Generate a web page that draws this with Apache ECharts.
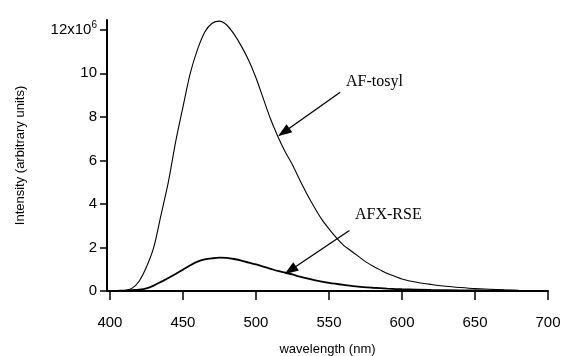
<!DOCTYPE html>
<html>
<head>
<meta charset="utf-8">
<script src="https://cdn.jsdelivr.net/npm/echarts@6/dist/echarts.min.js"></script>
<style>
  html, body { margin: 0; padding: 0; background: #fff; }
  #chart { width: 561px; height: 356px; }
</style>
</head>
<body>
<div id="chart"></div>
<script>
// emission spectra (intensity in 10^6 units)
const tosylWavelengths = [400, 405, 410, 415, 420, 425, 430, 435, 440, 445, 450, 455, 460, 465, 470, 475, 480, 485, 490, 495, 500, 505, 510, 515, 520, 525, 530, 535, 540, 545, 550, 555, 560, 565, 570, 575, 580, 585, 590, 595, 600, 610, 620, 630, 640, 650, 660, 670, 680];
const tosylValues = [0, 0.01, 0.02, 0.12, 0.45, 1.1, 2.0, 3.5, 5.0, 6.85, 8.45, 10.0, 11.1, 11.9, 12.3, 12.4, 12.22, 11.8, 11.25, 10.6, 9.8, 8.85, 7.9, 7.1, 6.4, 5.8, 5.1, 4.45, 3.85, 3.3, 2.85, 2.45, 2.1, 1.85, 1.6, 1.35, 1.15, 0.97, 0.8, 0.68, 0.55, 0.4, 0.3, 0.22, 0.16, 0.11, 0.08, 0.05, 0.03];

const rseWavelengths = [400, 405, 410, 415, 420, 425, 430, 435, 440, 445, 450, 455, 460, 465, 470, 475, 480, 485, 490, 495, 500, 505, 510, 515, 520, 525, 530, 535, 540, 545, 550, 560, 570, 580, 590, 600, 620, 640, 660, 680, 700];
const rseValues = [0, 0.01, 0.02, 0.04, 0.06, 0.12, 0.25, 0.42, 0.6, 0.78, 0.98, 1.18, 1.35, 1.45, 1.5, 1.53, 1.52, 1.47, 1.4, 1.3, 1.22, 1.12, 1.02, 0.92, 0.84, 0.76, 0.66, 0.58, 0.5, 0.43, 0.37, 0.28, 0.2, 0.15, 0.11, 0.08, 0.05, 0.03, 0.02, 0.01, 0.01];

const xTicks = [400, 450, 500, 550, 600, 650, 700];
const yTicks = [0, 2, 4, 6, 8, 10, 12];

// arrows: [start, end] in data coordinates
const tosylArrow = [[557.7, 9.13], [519, 7.29]];
const rseArrow = [[564, 2.78], [523.5, 0.95]];

const chart = echarts.init(document.getElementById("chart"));
const ink = "#000";
const pair = (xs, ys) => xs.map((x, i) => [x, ys[i]]);
const arrowLine = (pts) => ({
  silent: true,
  symbol: ["none", "triangle"],
  symbolSize: [10, 14],
  lineStyle: { color: ink, width: 1.3, type: "solid" },
  label: { show: false },
  data: [[{ coord: pts[0] }, { coord: pts[1] }]],
});

chart.setOption({
  animation: false,
  grid: { left: 107, right: 13, top: 20, bottom: 65, outerBoundsMode: "none", containLabel: false },
  xAxis: {
    type: "value",
    min: 398,
    max: 700,
    name: "wavelength (nm)",
    nameLocation: "middle",
    nameGap: 52,
    nameTextStyle: { fontFamily: "Liberation Sans", fontSize: 13, color: ink },
    axisLine: { lineStyle: { color: ink, width: 2 } },
    axisTick: { customValues: xTicks, length: 9, lineStyle: { color: ink, width: 1.5 } },
    axisLabel: { customValues: xTicks, margin: 24, fontFamily: "Liberation Sans", fontSize: 15, color: ink },
    splitLine: { show: false },
  },
  yAxis: {
    type: "value",
    min: 0,
    max: 12.45,
    name: "Intensity (arbitrary units)",
    nameLocation: "middle",
    nameGap: 80,
    nameTextStyle: { fontFamily: "Liberation Sans", fontSize: 13, color: ink },
    axisLine: { lineStyle: { color: ink, width: 2 } },
    axisTick: { customValues: yTicks, length: 7, lineStyle: { color: ink, width: 1.5 } },
    axisLabel: {
      customValues: yTicks,
      margin: 10,
      fontFamily: "Liberation Sans",
      fontSize: 15,
      color: ink,
      formatter: (v) => (v === 12 ? "12x10{sup|6}" : String(v)),
      rich: { sup: { fontSize: 10, fontFamily: "Liberation Sans", color: ink, padding: [0, 0, 9, 0] } },
    },
    splitLine: { show: false },
  },
  series: [
    {
      name: "AF-tosyl",
      type: "line",
      data: pair(tosylWavelengths, tosylValues),
      smooth: 0.3,
      showSymbol: false,
      lineStyle: { color: ink, width: 1.1 },
      markLine: arrowLine(tosylArrow),
    },
    {
      name: "AFX-RSE",
      type: "line",
      data: pair(rseWavelengths, rseValues),
      smooth: 0.3,
      showSymbol: false,
      lineStyle: { color: ink, width: 1.8 },
      markLine: arrowLine(rseArrow),
    },
  ],
  graphic: [
    { type: "text", left: 346, top: 74, style: { text: "AF-tosyl", fontFamily: "Liberation Serif", fontSize: 16, fill: ink } },
    { type: "text", left: 355, top: 207, style: { text: "AFX-RSE", fontFamily: "Liberation Serif", fontSize: 16, fill: ink } },
  ],
});
</script>
</body>
</html>
